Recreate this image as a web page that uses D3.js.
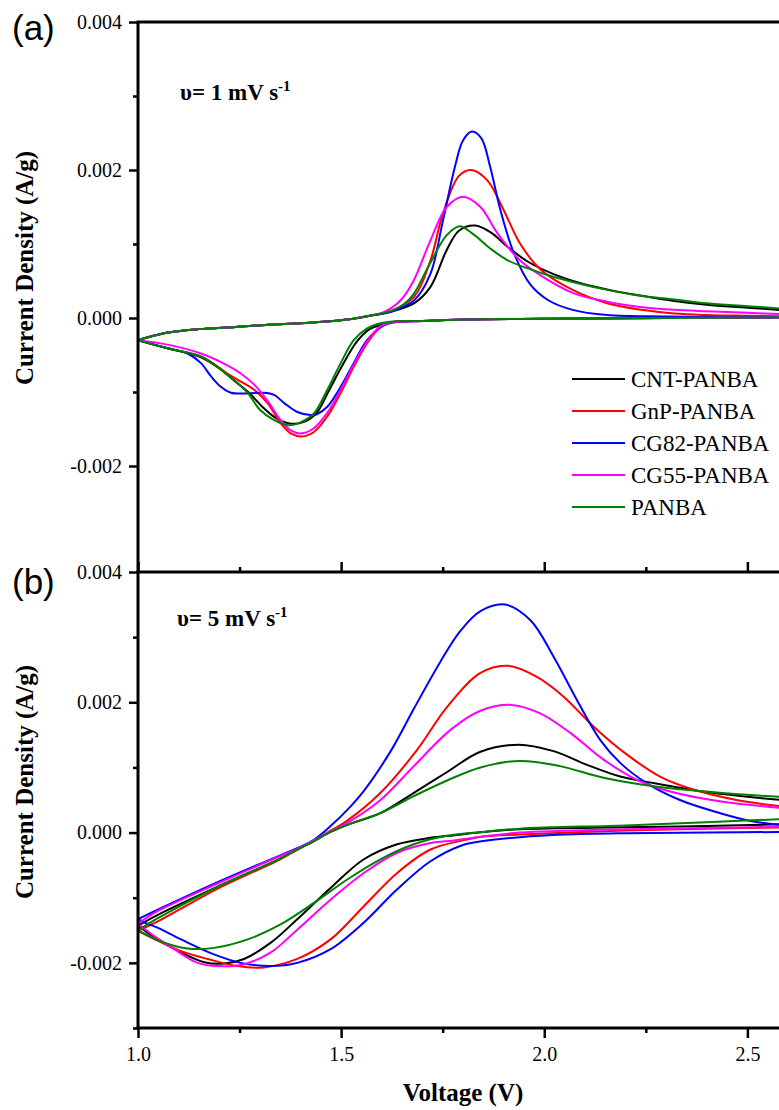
<!DOCTYPE html>
<html>
<head>
<meta charset="utf-8">
<script src="https://cdn.jsdelivr.net/npm/d3@7"></script>
<style>
  body { margin: 0; background: #fff; }
  text { font-family: "Liberation Serif", "Times New Roman", serif; }
</style>
</head>
<body>
<div id="chart"></div>
<script>
// Series names and the tick values
const seriesNames = ["CNT-PANBA", "GnP-PANBA", "CG82-PANBA", "CG55-PANBA", "PANBA"];
const seriesColors = ["#000000", "#ff0000", "#0000ff", "#ff00ff", "#008000"];
const voltageTicks = [1.0, 1.5, 2.0, 2.5];
const voltageMinor = [1.25, 1.75, 2.25];
const currentTicksA = [-0.002, 0, 0.002, 0.004];
const currentMinorA = [-0.001, 0.001, 0.003];
const currentTicksB = [-0.002, 0, 0.002, 0.004];
const currentMinorB = [-0.003, -0.001, 0.001, 0.003];
const scanRates = ["1", "5"];

// Panel (a), 1 mV/s : [voltage, current density]
// anodic sweep (1.0 -> 2.6)
const a_cnt_up = [[1.00,-0.00030],[1.07,-0.00020],[1.15,-0.00015],[1.24,-0.00012],[1.32,-0.00009],[1.40,-0.00007],[1.48,-0.00004],[1.53,-0.00001],[1.58,0.00004],[1.62,0.00008],[1.68,0.00020],[1.72,0.00042],[1.76,0.00092],[1.79,0.00118],[1.83,0.00125],[1.87,0.00115],[1.91,0.00096],[1.96,0.00076],[2.02,0.00060],[2.09,0.00047],[2.16,0.00038],[2.24,0.00030],[2.32,0.00023],[2.40,0.00018],[2.50,0.00014],[2.60,0.00010]];
const a_gnp_up = [[1.00,-0.00030],[1.07,-0.00020],[1.15,-0.00015],[1.24,-0.00012],[1.32,-0.00009],[1.40,-0.00007],[1.48,-0.00004],[1.53,-0.00001],[1.58,0.00004],[1.62,0.00009],[1.68,0.00029],[1.72,0.00078],[1.75,0.00140],[1.79,0.00192],[1.82,0.00200],[1.86,0.00186],[1.90,0.00146],[1.94,0.00101],[1.99,0.00066],[2.07,0.00038],[2.155,0.00020],[2.24,0.00011],[2.32,0.00006],[2.40,0.00004],[2.50,0.00003],[2.60,0.00002]];
const a_cg82_up = [[1.00,-0.00030],[1.07,-0.00020],[1.15,-0.00015],[1.24,-0.00012],[1.32,-0.00009],[1.40,-0.00007],[1.48,-0.00004],[1.53,-0.00001],[1.58,0.00004],[1.62,0.00008],[1.68,0.00024],[1.72,0.00060],[1.75,0.00130],[1.78,0.00204],[1.80,0.00240],[1.822,0.00252],[1.845,0.00243],[1.867,0.00204],[1.892,0.00146],[1.925,0.00088],[1.966,0.00045],[2.01,0.00024],[2.07,0.00011],[2.155,0.00004],[2.30,0.00002],[2.45,0.00001],[2.60,0.00001]];
const a_cg55_up = [[1.00,-0.00030],[1.07,-0.00020],[1.15,-0.00015],[1.24,-0.00012],[1.32,-0.00009],[1.40,-0.00007],[1.48,-0.00004],[1.53,-0.00001],[1.57,0.00003],[1.60,0.00007],[1.625,0.00014],[1.65,0.00026],[1.678,0.00050],[1.72,0.00105],[1.76,0.00150],[1.80,0.00164],[1.843,0.00150],[1.884,0.00115],[1.94,0.00078],[1.99,0.00058],[2.07,0.00034],[2.155,0.00022],[2.236,0.00015],[2.32,0.00011],[2.40,0.00009],[2.50,0.00007],[2.60,0.00005]];
const a_panba_up = [[1.00,-0.00030],[1.07,-0.00020],[1.15,-0.00015],[1.24,-0.00012],[1.32,-0.00009],[1.40,-0.00007],[1.48,-0.00004],[1.53,-0.00001],[1.57,0.00003],[1.60,0.00006],[1.63,0.00011],[1.655,0.00019],[1.678,0.00032],[1.72,0.00075],[1.76,0.00112],[1.792,0.00124],[1.826,0.00113],[1.867,0.00094],[1.91,0.00078],[1.96,0.00067],[2.02,0.00056],[2.09,0.00046],[2.155,0.00038],[2.236,0.00030],[2.32,0.00025],[2.40,0.00020],[2.50,0.00016],[2.60,0.00012]];
// cathodic sweep (2.6 -> 1.0)
const a_cnt_down = [[2.60,0.00001],[2.30,0.00000],[2.00,-0.00001],[1.80,-0.00002],[1.70,-0.00004],[1.63,-0.00005],[1.60,-0.00009],[1.57,-0.00015],[1.54,-0.00031],[1.505,-0.00062],[1.47,-0.00098],[1.44,-0.00128],[1.41,-0.00140],[1.38,-0.00143],[1.345,-0.00137],[1.31,-0.00122],[1.275,-0.00102],[1.24,-0.00086],[1.20,-0.00068],[1.155,-0.00053],[1.073,-0.00041],[1.00,-0.00030]];
const a_gnp_down = [[2.60,0.00001],[2.30,0.00000],[2.00,-0.00001],[1.80,-0.00002],[1.70,-0.00004],[1.62,-0.00006],[1.597,-0.00012],[1.564,-0.00034],[1.531,-0.00066],[1.499,-0.00101],[1.466,-0.00133],[1.433,-0.00154],[1.403,-0.00160],[1.376,-0.00156],[1.351,-0.00142],[1.319,-0.00115],[1.286,-0.00097],[1.253,-0.00086],[1.22,-0.00075],[1.155,-0.00052],[1.073,-0.00041],[1.00,-0.00030]];
const a_cg82_down = [[2.60,0.00001],[2.30,0.00000],[2.00,-0.00001],[1.80,-0.00002],[1.70,-0.00004],[1.63,-0.00006],[1.605,-0.00010],[1.564,-0.00030],[1.531,-0.00061],[1.499,-0.00093],[1.466,-0.00120],[1.44,-0.00130],[1.425,-0.00131],[1.392,-0.00127],[1.36,-0.00115],[1.335,-0.00104],[1.31,-0.00101],[1.27,-0.00102],[1.229,-0.00101],[1.204,-0.00093],[1.18,-0.00079],[1.155,-0.00061],[1.122,-0.00048],[1.073,-0.00041],[1.00,-0.00030]];
const a_cg55_down = [[2.60,0.00001],[2.30,0.00000],[2.00,-0.00001],[1.80,-0.00002],[1.70,-0.00004],[1.62,-0.00006],[1.597,-0.00011],[1.564,-0.00032],[1.531,-0.00063],[1.499,-0.00097],[1.466,-0.00128],[1.433,-0.00149],[1.40,-0.00156],[1.376,-0.00152],[1.351,-0.00138],[1.319,-0.00112],[1.286,-0.00090],[1.253,-0.00075],[1.22,-0.00064],[1.155,-0.00048],[1.073,-0.00036],[1.00,-0.00030]];
const a_panba_down = [[2.60,0.00001],[2.30,0.00000],[2.00,-0.00001],[1.80,-0.00002],[1.70,-0.00004],[1.62,-0.00005],[1.59,-0.00008],[1.564,-0.00014],[1.531,-0.00030],[1.499,-0.00061],[1.466,-0.00097],[1.433,-0.00129],[1.40,-0.00141],[1.371,-0.00145],[1.335,-0.00138],[1.30,-0.00124],[1.27,-0.00101],[1.236,-0.00084],[1.196,-0.00066],[1.155,-0.00052],[1.073,-0.00041],[1.00,-0.00030]];

// Panel (b), 5 mV/s
const b_cnt_up = [[1.00,-0.00143],[1.05,-0.00126],[1.20,-0.00082],[1.35,-0.00040],[1.392,-0.00026],[1.433,-0.00013],[1.474,0.00001],[1.52,0.00013],[1.597,0.00030],[1.679,0.00061],[1.761,0.00093],[1.843,0.00124],[1.937,0.00135],[2.023,0.00125],[2.105,0.00104],[2.187,0.00086],[2.269,0.00076],[2.391,0.00063],[2.50,0.00055],[2.60,0.00049]];
const b_gnp_up = [[1.00,-0.00151],[1.05,-0.00136],[1.20,-0.00085],[1.35,-0.00041],[1.392,-0.00026],[1.433,-0.00013],[1.474,0.00003],[1.51,0.00016],[1.597,0.00061],[1.687,0.00127],[1.761,0.00193],[1.843,0.00245],[1.91,0.00256],[1.982,0.00239],[2.047,0.00209],[2.121,0.00163],[2.203,0.00120],[2.285,0.00086],[2.367,0.00066],[2.473,0.00050],[2.60,0.00039]];
const b_cg82_up = [[1.00,-0.00133],[1.05,-0.00118],[1.20,-0.00075],[1.35,-0.00035],[1.392,-0.00024],[1.433,-0.00011],[1.474,0.00010],[1.52,0.00038],[1.556,0.00064],[1.622,0.00125],[1.679,0.00190],[1.744,0.00262],[1.794,0.00310],[1.843,0.00340],[1.904,0.00350],[1.966,0.00326],[2.023,0.00270],[2.08,0.00204],[2.138,0.00142],[2.187,0.00107],[2.252,0.00076],[2.334,0.00050],[2.432,0.00030],[2.514,0.00017],[2.60,0.00011]];
const b_cg55_up = [[1.00,-0.00140],[1.05,-0.00120],[1.20,-0.00077],[1.35,-0.00036],[1.392,-0.00025],[1.433,-0.00012],[1.474,0.00002],[1.51,0.00013],[1.597,0.00050],[1.679,0.00102],[1.77,0.00158],[1.843,0.00187],[1.918,0.00196],[1.99,0.00183],[2.064,0.00153],[2.146,0.00112],[2.228,0.00081],[2.31,0.00063],[2.432,0.00048],[2.60,0.00037]];
const b_panba_up = [[1.00,-0.00150],[1.05,-0.00131],[1.20,-0.00082],[1.35,-0.00040],[1.392,-0.00026],[1.433,-0.00013],[1.474,0.00001],[1.52,0.00013],[1.597,0.00030],[1.679,0.00056],[1.761,0.00080],[1.843,0.00100],[1.941,0.00110],[2.039,0.00102],[2.146,0.00084],[2.269,0.00071],[2.432,0.00061],[2.60,0.00054]];
const b_cnt_down = [[2.60,0.00013],[2.40,0.00010],[2.20,0.00008],[1.94,0.00005],[1.85,0.00001],[1.78,-0.00004],[1.72,-0.00008],[1.638,-0.00018],[1.556,-0.00041],[1.474,-0.00085],[1.392,-0.00133],[1.327,-0.00169],[1.261,-0.00194],[1.212,-0.00201],[1.163,-0.00199],[1.106,-0.00184],[1.048,-0.00164],[1.00,-0.00143]];
const b_gnp_down = [[2.60,0.00008],[2.40,0.00006],[2.20,0.00003],[1.94,-0.00003],[1.85,-0.00006],[1.80,-0.00012],[1.72,-0.00026],[1.638,-0.00062],[1.556,-0.00113],[1.474,-0.00164],[1.392,-0.00194],[1.31,-0.00207],[1.245,-0.00205],[1.171,-0.00194],[1.106,-0.00182],[1.048,-0.00166],[1.00,-0.00151]];
const b_cg82_down = [[2.60,0.00001],[2.40,0.00000],[2.20,-0.00001],[2.05,-0.00003],[1.94,-0.00007],[1.85,-0.00013],[1.80,-0.00019],[1.72,-0.00044],[1.638,-0.00087],[1.556,-0.00138],[1.474,-0.00179],[1.392,-0.00200],[1.327,-0.00205],[1.253,-0.00200],[1.187,-0.00187],[1.106,-0.00164],[1.048,-0.00146],[1.016,-0.00138],[1.00,-0.00133]];
const b_cg55_down = [[2.60,0.00009],[2.40,0.00007],[2.20,0.00005],[1.94,0.00000],[1.85,-0.00006],[1.777,-0.00012],[1.72,-0.00016],[1.638,-0.00031],[1.556,-0.00062],[1.474,-0.00103],[1.392,-0.00149],[1.327,-0.00184],[1.261,-0.00202],[1.196,-0.00205],[1.147,-0.00200],[1.089,-0.00179],[1.04,-0.00159],[1.00,-0.00140]];
const b_panba_down = [[2.60,0.00021],[2.40,0.00016],[2.20,0.00011],[1.94,0.00006],[1.85,0.00001],[1.761,-0.00005],[1.679,-0.00018],[1.597,-0.00041],[1.515,-0.00072],[1.433,-0.00108],[1.351,-0.00141],[1.27,-0.00164],[1.187,-0.00177],[1.122,-0.00178],[1.065,-0.00169],[1.00,-0.00150]];

// one entry per series: [anodic sweep, cathodic sweep]
const sweepsA = [[a_cnt_up, a_cnt_down], [a_gnp_up, a_gnp_down], [a_cg82_up, a_cg82_down], [a_cg55_up, a_cg55_down], [a_panba_up, a_panba_down]];
const sweepsB = [[b_cnt_up, b_cnt_down], [b_gnp_up, b_gnp_down], [b_cg82_up, b_cg82_down], [b_cg55_up, b_cg55_down], [b_panba_up, b_panba_down]];

let width = 779, height = 1110;

let svg = d3.select("#chart")
  .append("svg")
  .attr("width", width)
  .attr("height", height)
  .style("background", "#fff");

// x goes to 2.6 V, just past the right edge of the picture
let x = d3.scaleLinear().domain([1.0, 2.6]).range([138, 788]);

let panels = [
  { y: d3.scaleLinear().domain([-0.004, 0.004]).range([614, 22]), top: 22, bottom: 572,
    sweeps: sweepsA, major: currentTicksA, minor: currentMinorA, tag: "(a)", tagY: 40, noteY: 100, labelY: 268 },
  { y: d3.scaleLinear().domain([-0.003, 0.004]).range([1028, 572]), top: 572, bottom: 1028,
    sweeps: sweepsB, major: currentTicksB, minor: currentMinorB, tag: "(b)", tagY: 594, noteY: 626, labelY: 782 }
];

const fmt = d => d.toFixed(3);

panels.forEach((p, k) => {
  // clip the curves to the plot area
  svg.append("clipPath")
    .attr("id", "clip" + k)
    .append("rect")
    .attr("x", x.range()[0])
    .attr("y", p.top)
    .attr("width", x.range()[1] - x.range()[0])
    .attr("height", p.bottom - p.top);

  let line = d3.line()
    .x(d => x(d[0]))
    .y(d => p.y(d[1]))
    .curve(d3.curveCatmullRom.alpha(0.5));

  let groups = svg.append("g")
    .attr("clip-path", `url(#clip${k})`)
    .selectAll("g")
    .data(p.sweeps)
    .enter()
    .append("g")
    .attr("stroke", (d, i) => seriesColors[i]);

  groups.selectAll("path")
    .data(d => d)
    .enter()
    .append("path")
    .attr("d", line)
    .attr("fill", "none")
    .attr("stroke-width", 2);

  // y axis, major and minor ticks
  let yAxis = svg.append("g")
    .attr("transform", `translate(${x.range()[0]},0)`)
    .call(d3.axisLeft(p.y).tickValues(p.major).tickSize(9).tickPadding(7).tickFormat(fmt));
  let yMinor = svg.append("g")
    .attr("transform", `translate(${x.range()[0]},0)`)
    .call(d3.axisLeft(p.y).tickValues(p.minor).tickSize(5).tickFormat(""));

  [yAxis, yMinor].forEach(g => {
    g.select(".domain").remove();
    g.selectAll("line").attr("stroke-width", 2.5);
  });
  yAxis.selectAll("text")
    .style("font-size", "20px")
    .style("font-family", "Liberation Serif")
    .attr("fill", "#000");

  // y label
  svg.append("text")
    .attr("transform", `translate(24,${p.labelY}) rotate(-90)`)
    .attr("text-anchor", "middle")
    .attr("dominant-baseline", "central")
    .style("font-size", "25px")
    .style("font-weight", "bold")
    .text("Current Density (A/g)");

  // panel tag
  svg.append("text")
    .attr("x", 12)
    .attr("y", p.tagY)
    .style("font-family", "Liberation Sans, Arial, sans-serif")
    .style("font-size", "35px")
    .text(p.tag);

  // scan rate
  let note = svg.append("text")
    .attr("x", k === 0 ? 180 : 177)
    .attr("y", p.noteY)
    .style("font-size", "23px")
    .style("font-weight", "bold");
  note.append("tspan").text(`υ= ${scanRates[k]} mV s`);
  note.append("tspan").attr("dy", -9).style("font-size", "15px").text("-1");
});

// panel (a) bottom axis: ticks point inward
let xTopMajor = svg.append("g")
  .attr("transform", `translate(0,${panels[0].bottom})`)
  .call(d3.axisTop(x).tickValues(voltageTicks).tickSize(10).tickFormat(""));
let xTopMinor = svg.append("g")
  .attr("transform", `translate(0,${panels[0].bottom})`)
  .call(d3.axisTop(x).tickValues(voltageMinor).tickSize(5).tickFormat(""));

// panel (b) bottom axis
let xAxis = svg.append("g")
  .attr("transform", `translate(0,${panels[1].bottom})`)
  .call(d3.axisBottom(x).tickValues(voltageTicks).tickSize(10).tickPadding(9).tickFormat(d3.format(".1f")));
let xMinor = svg.append("g")
  .attr("transform", `translate(0,${panels[1].bottom})`)
  .call(d3.axisBottom(x).tickValues(voltageMinor).tickSize(5).tickFormat(""));

[xTopMajor, xTopMinor, xAxis, xMinor].forEach(g => {
  g.select(".domain").remove();
  g.selectAll("line").attr("stroke-width", 2.5);
});
xAxis.selectAll("text")
  .style("font-size", "20px")
  .style("font-family", "Liberation Serif")
  .attr("fill", "#000");

// frame lines
let frame = svg.append("g").attr("stroke", "#000").attr("stroke-width", 3);
frame.append("line")
  .attr("x1", x.range()[0]).attr("x2", x.range()[0])
  .attr("y1", panels[0].top).attr("y2", panels[1].bottom);
[panels[0].top, panels[0].bottom, panels[1].bottom].forEach(yy => {
  frame.append("line")
    .attr("x1", x.range()[0] - 1.5).attr("x2", x.range()[1])
    .attr("y1", yy).attr("y2", yy);
});

// x label
svg.append("text")
  .attr("x", (x.range()[0] + x.range()[1]) / 2)
  .attr("y", 1101)
  .attr("text-anchor", "middle")
  .style("font-size", "25px")
  .style("font-weight", "bold")
  .text("Voltage (V)");

// legend
const legend = svg.append("g")
  .attr("transform", "translate(572,379)");

seriesNames.forEach((name, i) => {
  legend.append("line")
    .attr("x1", 0)
    .attr("x2", 53)
    .attr("y1", i * 32)
    .attr("y2", i * 32)
    .attr("stroke", seriesColors[i])
    .attr("stroke-width", 2);

  legend.append("text")
    .attr("x", 59)
    .attr("y", i * 32)
    .attr("dominant-baseline", "central")
    .style("font-size", "23px")
    .text(name);
});
</script>
</body>
</html>
